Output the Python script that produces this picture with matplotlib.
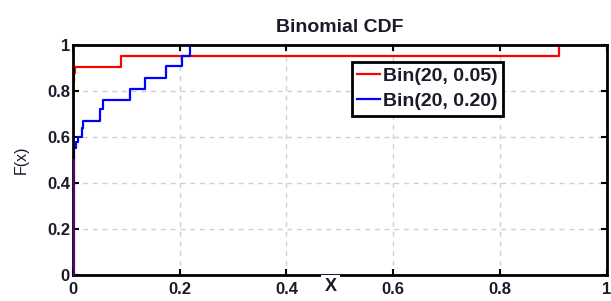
import matplotlib
matplotlib.use("Agg")
import matplotlib.pyplot as plt

plt.rcParams['font.family'] = ['Liberation Sans', 'DejaVu Sans']

title = "Binomial CDF"
x_label = "X"
y_label = "F(x)"
series_names = ["Bin(20, 0.05)", "Bin(20, 0.20)"]

red_x = [0, 0, 0.002, 0.004, 0.091, 0.911]
red_y = [0, 0.84, 0.88, 0.905, 0.953, 1.0]

blue_x = [0, 0, 0.003, 0.006, 0.009, 0.017, 0.020, 0.051, 0.056, 0.107, 0.135, 0.174, 0.204, 0.219]
blue_y = [0, 0.50, 0.55, 0.58, 0.60, 0.64, 0.67, 0.72, 0.76, 0.807, 0.855, 0.907, 0.950, 1.0]

tick_vals = [0, 0.2, 0.4, 0.6, 0.8, 1.0]
tick_labels = ["0", "0.2", "0.4", "0.6", "0.8", "1"]

fig = plt.figure(figsize=(6.11, 3.01), dpi=100)
ax = fig.add_axes([0.119, 0.0864, 0.8745, 0.7641])

ax.step(red_x, red_y, where='post', color='#ff0000', lw=1.6, label=series_names[0], zorder=3)
ax.step(blue_x, blue_y, where='post', color='#0000ff', lw=1.6, label=series_names[1], zorder=3)
# purple overlap of both vertical rises at x = 0
ax.plot([0.003, 0.003], [0, 0.5], color='#4b0a6e', lw=1.6, zorder=5, clip_on=False)

ax.set_xlim(0, 1)
ax.set_ylim(0, 1)
ax.set_xticks(tick_vals)
ax.set_xticklabels(tick_labels, fontsize=12, fontweight='bold', color='#1a1a2a')
ax.set_yticks(tick_vals)
ax.set_yticklabels(tick_labels, fontsize=12, fontweight='bold', color='#1a1a2a')
ax.tick_params(direction='in', length=4, width=1.5, top=True, right=True)
ax.tick_params(axis='x', pad=5)
ax.tick_params(axis='y', pad=2)

ax.grid(True, color='#cfcfcf', linestyle=(0, (3.5, 3.5)), linewidth=1.0, zorder=0)
for s in ax.spines.values():
    s.set_linewidth(2.0)
    s.set_color('black')
    s.set_zorder(4)

ax.set_title(title, fontsize=14, fontweight='bold', pad=9, color='#1a1a2a')
ax.set_ylabel(y_label, fontsize=11.5, labelpad=13, color='#1a1a2a')
ax.text(0.483, -0.052, x_label, transform=ax.transAxes, ha='center', va='center',
        fontsize=13, fontweight='bold', color='#1a1a2a', zorder=6, clip_on=False,
        bbox=dict(facecolor='white', edgecolor='none', pad=2.5))

leg = ax.legend(loc='upper left', bbox_to_anchor=(0.522, 0.928),
                prop={'size': 14, 'weight': 'bold'},
                frameon=True, fancybox=False, framealpha=1, edgecolor='black',
                handlelength=1.15, handletextpad=0.15, borderpad=0.3, labelspacing=0.38,
                borderaxespad=0)
leg.get_frame().set_linewidth(2.0)
for t in leg.get_texts():
    t.set_color('#1a1a2a')

fig.savefig("out.png", dpi=100)
